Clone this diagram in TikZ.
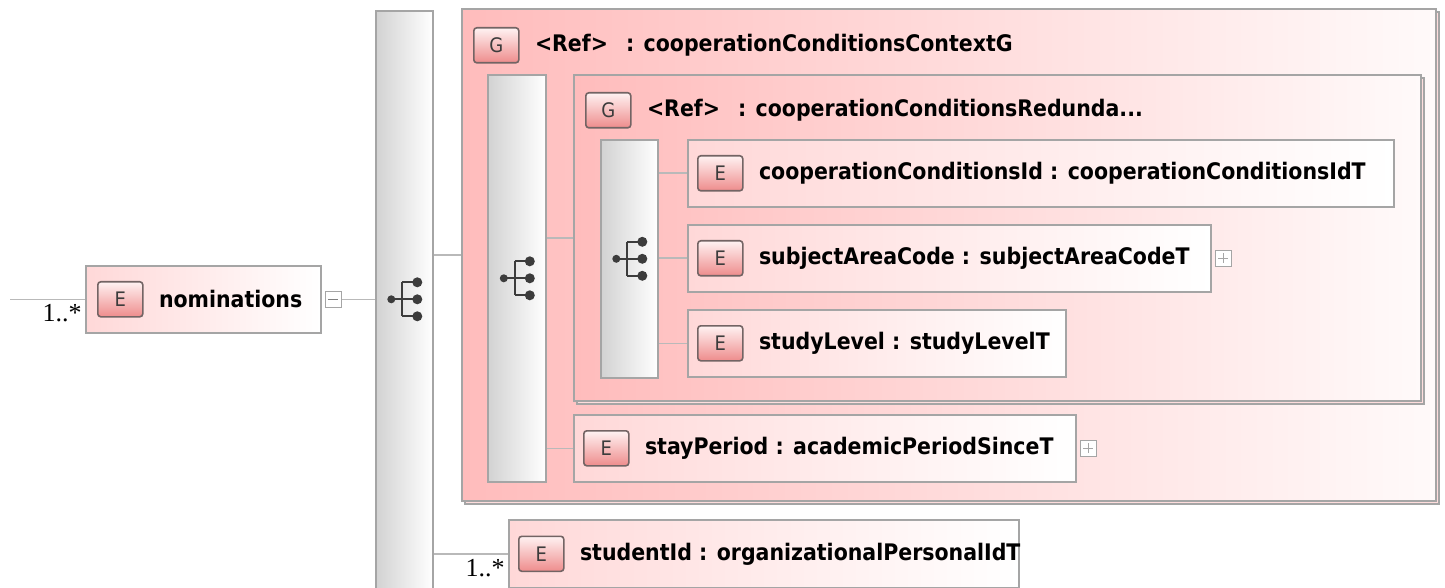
\documentclass[tikz,border=0pt]{standalone}
\usepackage{fontspec}
\setmainfont{DejaVu Sans Condensed}
\newfontfamily\multfont{Liberation Serif}
\usetikzlibrary{positioning, shadows}

\definecolor{grppink}{RGB}{255,188,188}
\definecolor{elpink}{RGB}{255,216,216}
\definecolor{edgegray}{RGB}{165,165,165}
\definecolor{bargray}{RGB}{210,210,210}
\definecolor{badgepink}{RGB}{238,140,140}
\definecolor{badgeedge}{RGB}{115,100,100}
\definecolor{icongray}{RGB}{60,60,60}
\definecolor{conngray}{RGB}{185,185,185}

\tikzset{
  boxsize/.style 2 args={minimum width=#1*0.5pt, minimum height=#2*0.5pt},
  elbox/.style={draw=edgegray, line width=0.8pt, left color=elpink, right color=white, inner sep=0pt, anchor=north west},
  grpbox/.style={draw=edgegray, line width=0.8pt, left color=grppink, right color=red!2, inner sep=0pt, anchor=north west,
    general shadow={shadow xshift=1.5pt, shadow yshift=-1.5pt, draw=edgegray, line width=0.8pt, fill=grppink!50}},
  seqbar/.style={draw=edgegray, line width=0.8pt, left color=bargray, right color=white, inner sep=0pt, anchor=north west},
  badge/.style={draw=badgeedge, line width=0.8pt, rounded corners=1.5pt, top color=red!5, bottom color=badgepink,
    boxsize={45}{35}, inner sep=0pt, font=\fontsize{10}{10}\selectfont, text=icongray},
  lbl/.style={font=\bfseries\fontsize{11.4}{13}\selectfont, inner sep=0pt, anchor=west},
  mult/.style={font=\multfont\fontsize{13}{13}\selectfont, inner sep=0pt, anchor=north east},
  conn/.style={draw=conngray, line width=0.8pt},
  pmbox/.style={draw=edgegray, fill=white, line width=0.6pt, boxsize={16}{16}, inner sep=0pt, anchor=west},
  collapsebox/.style={pmbox, path picture={\draw[gray] ([xshift=1.5pt]path picture bounding box.west) -- ([xshift=-1.5pt]path picture bounding box.east);}},
  expandbox/.style={pmbox, path picture={\draw[gray!70] ([xshift=1.5pt]path picture bounding box.west) -- ([xshift=-1.5pt]path picture bounding box.east)
    ([yshift=-1.5pt]path picture bounding box.north) -- ([yshift=1.5pt]path picture bounding box.south);}},
  seqicon/.pic={
    \draw[icongray, line width=1.1pt] (-13,0) -- (13,0) (-2,-17) -- (-2,17) (-2,-17) -- (13,-17) (-2,17) -- (13,17);
    \fill[icongray] (-13,0) circle (2pt) (13,-17) circle (2.5pt) (13,0) circle (2.5pt) (13,17) circle (2.5pt);
  }
}

\begin{document}
\begin{tikzpicture}[x=0.5pt, y=-0.5pt]
\useasboundingbox (0,0) rectangle (1445,588);
\clip (0,0) rectangle (1445,588);

% root element
\node[elbox, boxsize={235}{67}] (nom) at (85,265) {};
\coordinate (start) at ([xshift=-37.5pt]nom.west);
\node[badge, anchor=west] (nomE) at ([xshift=6pt]nom.west) {E};
\node[lbl, right=7.5pt of nomE] {nominations};
\node[mult] at ([xshift=-1.5pt, yshift=-2.5pt]nom.west) {1..*};
\node[collapsebox] (nomC) at ([xshift=1.5pt]nom.east) {};
\draw[conn] (start) -- (nom.west);

% outer sequence and group
\node[seqbar, boxsize={57}{600}] (seqA) at (375,10) {};
\pic at (seqA.center |- nom.east) {seqicon};
\draw[conn] (nomC.east) -- (nomC.east -| seqA.west);
\node[grpbox, boxsize={974}{492}] (grpA) at (461,8) {};
\node[badge, anchor=north west] (grpAG) at ([xshift=6pt, yshift=-9.5pt]grpA.north west) {G};
\node[lbl, right=7.5pt of grpAG] {<Ref>\hspace{9pt}: cooperationConditionsContextG};
\draw[conn] (seqA.east |- grpA.west) -- (grpA.west);

% inner sequence and group
\node[seqbar, boxsize={58}{407}] (seqB) at (487,74) {};
\pic at (seqB.center) {seqicon};
\node[grpbox, boxsize={847}{326}] (grpB) at (573,74) {};
\node[badge, anchor=north west] (grpBG) at ([xshift=6pt, yshift=-9pt]grpB.north west) {G};
\node[lbl, right=7.5pt of grpBG] {<Ref>\hspace{9pt}: cooperationConditionsRedunda...};
\draw[conn] (seqB.east |- grpB.west) -- (grpB.west);

\node[seqbar, boxsize={57}{238}] (seqC) at (600,139) {};
\pic at (seqC.center) {seqicon};

% elements
\node[elbox, boxsize={706}{67}] (e1) at (687,139) {};
\node[elbox, boxsize={523}{67}] (e2) at (687,224) {};
\node[elbox, boxsize={378}{67}] (e3) at (687,309) {};
\node[elbox, boxsize={502}{67}] (e4) at (573,414) {};
\node[elbox, boxsize={510}{68}] (e5) at (508,519) {};
\foreach \e/\t in {e1/{cooperationConditionsId : cooperationConditionsIdT},
                   e2/{subjectAreaCode : subjectAreaCodeT},
                   e3/{studyLevel : studyLevelT},
                   e4/{stayPeriod : academicPeriodSinceT},
                   e5/{studentId : organizationalPersonalIdT}}{
  \node[badge, anchor=west] (\e-E) at ([xshift=5pt]\e.west) {E};
  \node[lbl, right=7.5pt of \e-E] {\t};
}
\node[expandbox] (e2X) at ([xshift=1.5pt]e2.east) {};
\node[expandbox] (e4X) at ([xshift=1.5pt]e4.east) {};

\foreach \e in {e1,e2,e3}
  \draw[conn] (seqC.east |- \e.west) -- (\e.west);
\draw[conn] (seqB.east |- e4.west) -- (e4.west);
\draw[conn] (seqA.east |- e5.west) -- (e5.west);
\node[mult] at ([xshift=-1.5pt, yshift=-2.5pt]e5.west) {1..*};
\end{tikzpicture}
\end{document}
